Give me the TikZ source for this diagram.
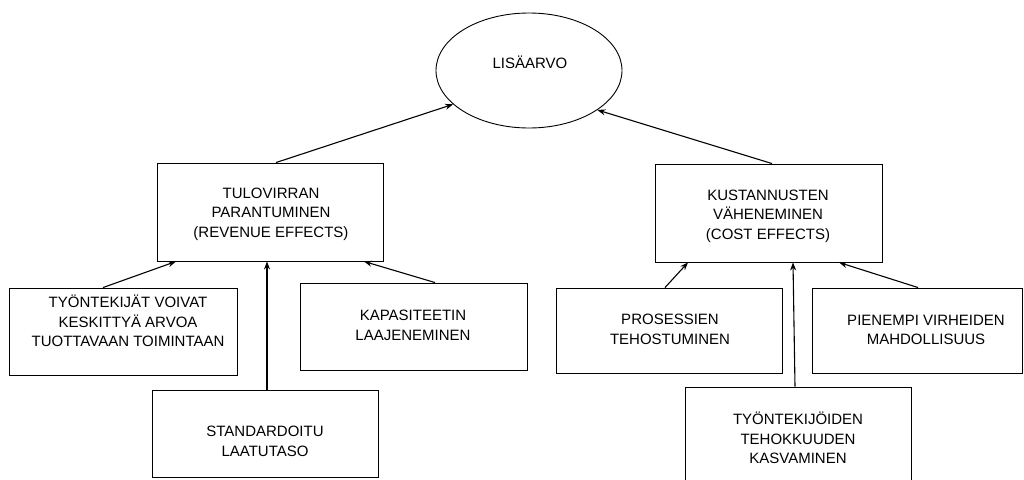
\documentclass[tikz,border=0pt]{standalone}
\usepackage{fontspec}
\setmainfont{Liberation Sans}
\usetikzlibrary{calc,shapes.geometric,arrows.meta}

\tikzset{
  box/.style={draw=black, line width=0.9pt, rectangle, inner sep=0pt},
  oval/.style={draw=black, line width=0.9pt, ellipse, inner sep=0pt,
               minimum width=186pt, minimum height=115pt},
  txt/.style={inner sep=0pt, align=center,
              font=\fontsize{15}{19.5}\selectfont},
  conn/.style={line width=1.1pt, -{Stealth[length=8pt,width=6pt]}}
}

\begin{document}
\begin{tikzpicture}[x=1pt, y=-1pt]
  \clip (0,0) rectangle (1024,479);
  \fill[white] (0,0) rectangle (1024,479);

  % top goal
  \node[oval] (ell) at (529,70.5) {};
  \node[txt] (tEll) at (530,62) {LISÄARVO};

  % second level
  \node[box, minimum width=226pt, minimum height=98pt] (rev) at (270,212) {};
  \node[txt] (tRev) at (271,214) {TULOVIRRAN\\PARANTUMINEN\\(REVENUE EFFECTS)};

  \node[box, minimum width=227pt, minimum height=98pt] (cost) at (768.5,213) {};
  \node[txt] (tCost) at (768,216) {KUSTANNUSTEN\\VÄHENEMINEN\\(COST EFFECTS)};

  % revenue drivers
  \node[box, minimum width=228pt, minimum height=87pt] (emp) at (123,331.5) {};
  \node[txt] (tEmp) at (128,321) {TYÖNTEKIJÄT VOIVAT\\KESKITTYÄ ARVOA\\TUOTTAVAAN TOIMINTAAN};

  \node[box, minimum width=227pt, minimum height=87pt] (cap) at (413.5,326.5) {};
  \node[txt] (tCap) at (413,325.5) {KAPASITEETIN\\LAAJENEMINEN};

  \node[box, minimum width=226pt, minimum height=87pt] (std) at (265,433.5) {};
  \node[txt] (tStd) at (265,441.5) {STANDARDOITU\\LAATUTASO};

  % cost drivers
  \node[box, minimum width=226pt, minimum height=85pt] (pro) at (669,330.5) {};
  \node[txt] (tPro) at (670,329.5) {PROSESSIEN\\TEHOSTUMINEN};

  \node[box, minimum width=210pt, minimum height=85pt] (err) at (917,330.5) {};
  \node[txt] (tErr) at (926,330) {PIENEMPI VIRHEIDEN\\MAHDOLLISUUS};

  \node[box, minimum width=226pt, minimum height=103pt] (eff) at (798,438.5) {};
  \node[txt] (tEff) at (798,438) {TYÖNTEKIJÖIDEN\\TEHOKKUUDEN\\KASVAMINEN};

  % connectors
  \draw[conn] ($(rev.north)+(6,0)$) -- (ell.204);
  \draw[conn] ($(cost.north)+(3.5,0)$) -- (ell.330);

  \draw[conn] ($(emp.north)+(-20,0)$) -- ($(rev.south)+(-94,0)$);
  \draw[conn] ($(std.north)+(2,0)$) -- ($(rev.south)+(-3,0)$);
  \draw[conn] ($(cap.north)+(21.5,0)$) -- ($(rev.south)+(94,0)$);

  \draw[conn] ($(pro.north)+(-4,0)$) -- ($(cost.south)+(-80.5,0)$);
  \draw[conn] ($(eff.north)+(-3,0)$) -- ($(cost.south)+(24.5,0)$);
  \draw[conn] ($(err.north)+(1,0)$) -- ($(cost.south)+(70.5,0)$);
\end{tikzpicture}
\end{document}
